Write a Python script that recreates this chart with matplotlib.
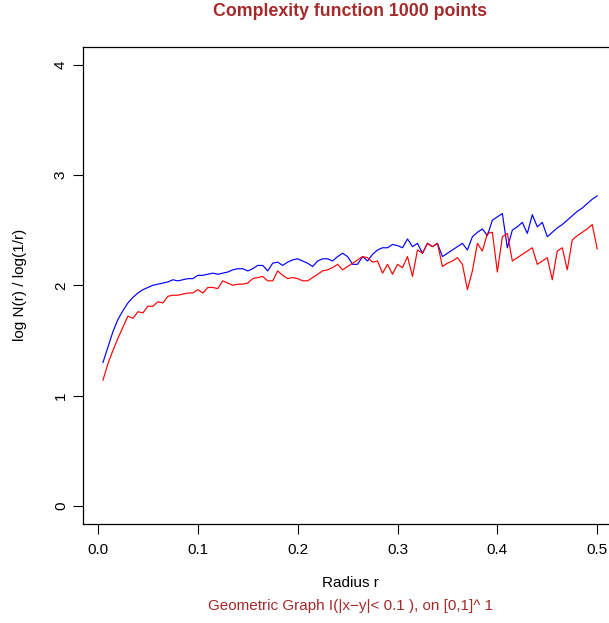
import numpy as np
import matplotlib
matplotlib.use("Agg")
import matplotlib.pyplot as plt

plt.rcParams['font.family'] = ['Liberation Sans', 'DejaVu Sans']

# radius values r = 0.005, 0.010, ..., 0.500
radius = np.arange(1, 101) * 0.005

# upper (blue) complexity curve
blue = [1.30, 1.44, 1.58, 1.69, 1.77, 1.84, 1.89, 1.93, 1.96, 1.98,
        2.00, 2.01, 2.02, 2.03, 2.05, 2.04, 2.05, 2.06, 2.06, 2.09,
        2.09, 2.10, 2.11, 2.10, 2.11, 2.12, 2.14, 2.15, 2.15, 2.13,
        2.15, 2.18, 2.18, 2.13, 2.20, 2.21, 2.18, 2.21, 2.23, 2.24,
        2.22, 2.20, 2.17, 2.22, 2.24, 2.24, 2.22, 2.26, 2.29, 2.26,
        2.19, 2.19, 2.26, 2.22, 2.28, 2.32, 2.34, 2.34, 2.37, 2.36,
        2.34, 2.42, 2.35, 2.38, 2.29, 2.38, 2.35, 2.38, 2.26, 2.29,
        2.32, 2.35, 2.38, 2.32, 2.44, 2.48, 2.51, 2.45, 2.59, 2.62,
        2.65, 2.34, 2.50, 2.53, 2.57, 2.47, 2.64, 2.53, 2.57, 2.44,
        2.48, 2.52, 2.55, 2.59, 2.63, 2.67, 2.70, 2.74, 2.78, 2.81]

# lower (red) complexity curve
red = [1.14, 1.29, 1.41, 1.52, 1.62, 1.72, 1.70, 1.76, 1.75, 1.81,
       1.81, 1.85, 1.84, 1.90, 1.91, 1.91, 1.92, 1.93, 1.93, 1.96,
       1.93, 1.98, 1.98, 1.97, 2.04, 2.02, 2.00, 2.01, 2.01, 2.02,
       2.06, 2.07, 2.08, 2.04, 2.04, 2.13, 2.09, 2.06, 2.07, 2.06,
       2.04, 2.04, 2.07, 2.10, 2.13, 2.14, 2.16, 2.19, 2.14, 2.17,
       2.20, 2.23, 2.26, 2.25, 2.21, 2.22, 2.11, 2.19, 2.10, 2.19,
       2.16, 2.26, 2.08, 2.32, 2.29, 2.38, 2.35, 2.38, 2.17, 2.20,
       2.22, 2.25, 2.19, 1.96, 2.13, 2.38, 2.31, 2.47, 2.48, 2.12,
       2.44, 2.47, 2.22, 2.25, 2.28, 2.31, 2.34, 2.19, 2.22, 2.25,
       2.05, 2.31, 2.34, 2.14, 2.41, 2.45, 2.48, 2.51, 2.55, 2.33]

xticks = [0.0, 0.1, 0.2, 0.3, 0.4, 0.5]
yticks = [0, 1, 2, 3, 4]

brown = '#A52A2A'

fig = plt.figure(figsize=(6.09, 6.23), dpi=100)
ax = fig.add_axes([0.1366, 0.1596, 0.8765, 0.765])

ax.plot(radius, blue, color='blue', lw=0.85)
ax.plot(radius, red, color='red', lw=0.85)

ax.set_xlim(0.005 - 0.04 * 0.495, 0.5 + 0.04 * 0.495)
ax.set_ylim(-0.16, 4.16)
ax.set_xticks(xticks)
ax.set_xticklabels(['0.0', '0.1', '0.2', '0.3', '0.4', '0.5'])
ax.set_yticks(yticks)
ax.set_yticklabels([str(v) for v in yticks], rotation=90, va='center')
ax.tick_params(direction='out', length=7, width=0.8, labelsize=11)
ax.tick_params(axis='x', pad=7)
ax.tick_params(axis='y', pad=4)
for s in ax.spines.values():
    s.set_linewidth(0.9)

cx = (83.2 + 617) / 2 / 609
fig.text(cx, 1 - 12 / 623, 'Complexity function 1000 points', ha='center', va='center',
         fontsize=12.8, fontweight='bold', color=brown)
fig.text(cx, 1 - 583 / 623, 'Radius r', ha='center', va='center', fontsize=11)
fig.text(cx, 1 - 606 / 623, 'Geometric Graph I(|x\u2212y|< 0.1 ), on [0,1]^ 1', ha='center',
         va='center', fontsize=11, color=brown)
fig.text(20 / 609, 1 - 285 / 623, 'log N(r) / log(1/r)', ha='center', va='center',
         rotation=90, fontsize=11)

fig.savefig('out.png', dpi=100)
